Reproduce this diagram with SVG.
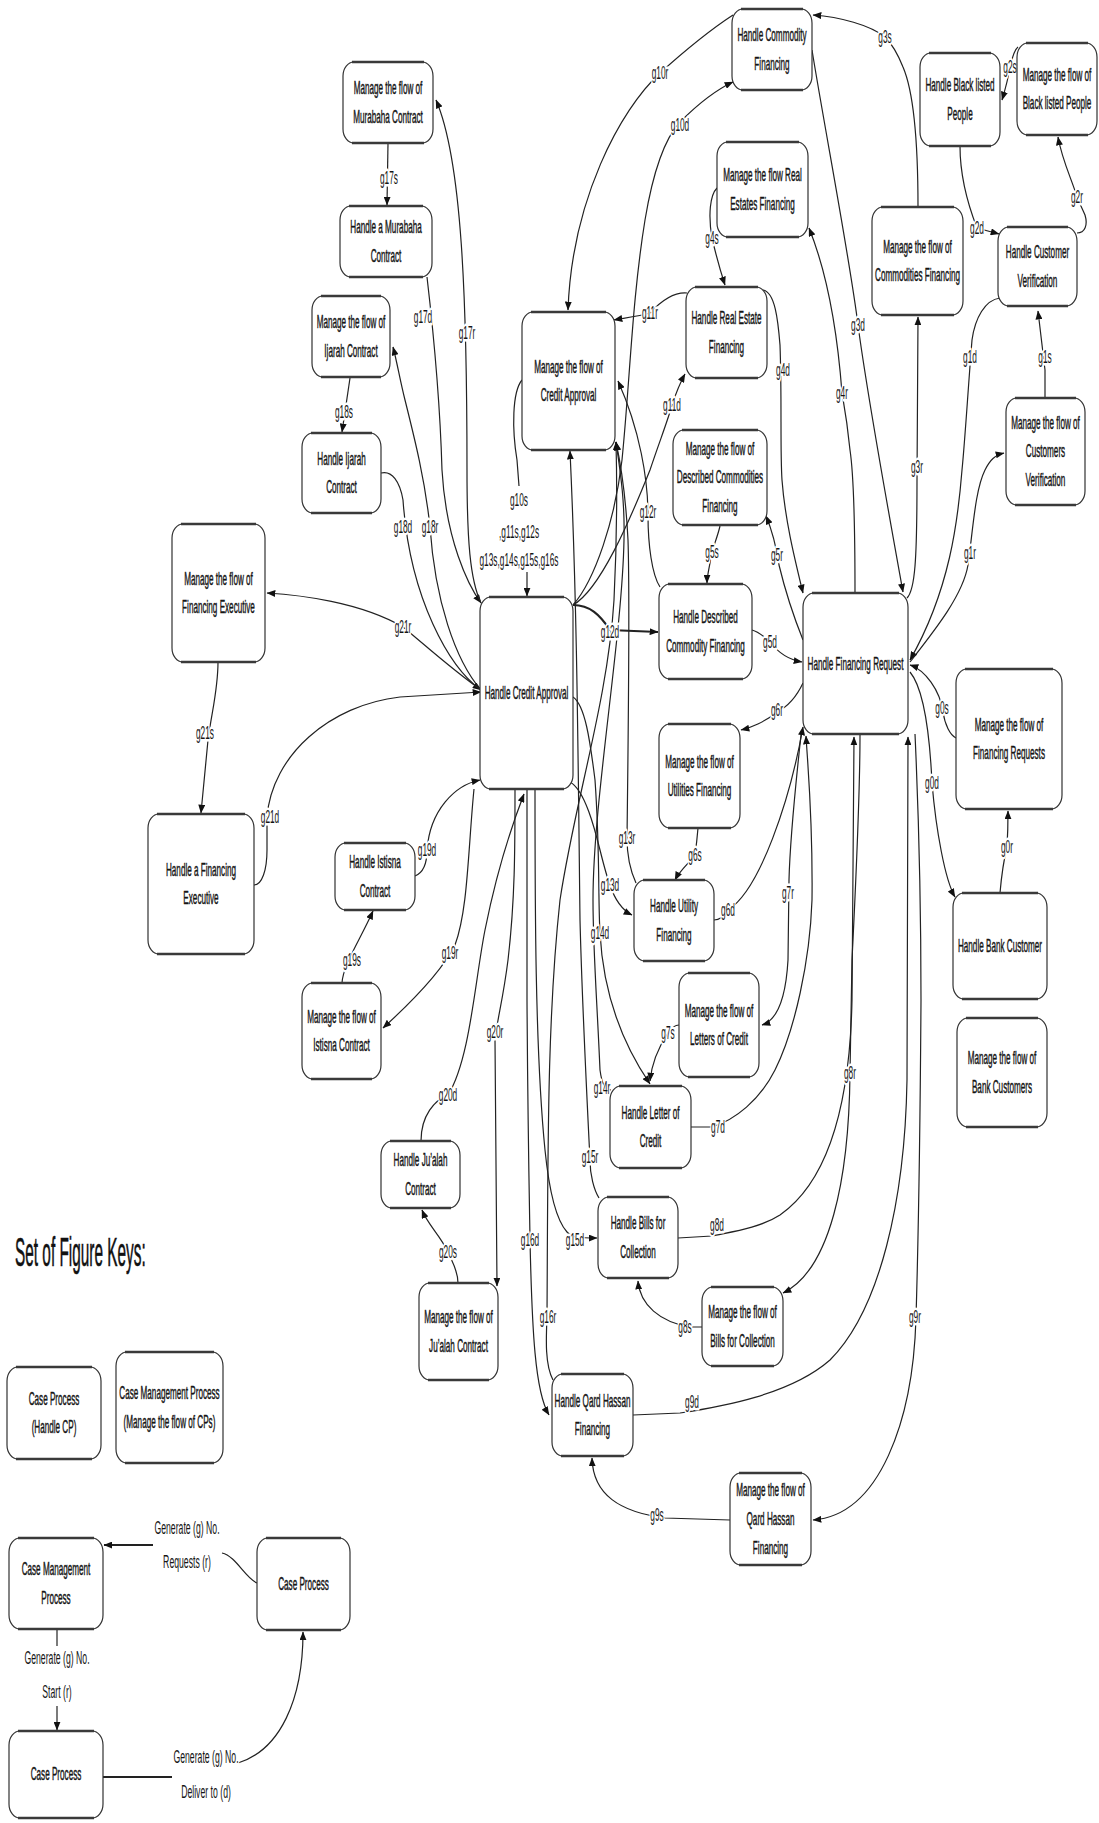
<svg xmlns="http://www.w3.org/2000/svg" width="1099" height="1823" viewBox="0 0 1099 1823">
<defs>
<style>
.box{fill:#fff;stroke:#333;stroke-width:1.2}
.rim{fill:none;stroke:#3a3a3a;stroke-width:2.6}
.t{font-family:"Liberation Sans",Arial,sans-serif;font-size:18.5px;fill:#151515;stroke:#151515;stroke-width:.45;text-anchor:middle}
.lb{font-family:"Liberation Sans",Arial,sans-serif;font-size:18.5px;fill:#151515;text-anchor:middle;stroke:#fff;stroke-width:5;stroke-linejoin:round;paint-order:stroke}
.c{fill:none;stroke:#222;stroke-width:1.2}
.a{marker-end:url(#ah)}
.thick{stroke-width:2.2}
.title{font-family:"Liberation Sans",Arial,sans-serif;font-size:41px;fill:#111;stroke:#111;stroke-width:.6}
</style>
<marker id="ah" viewBox="0 0 10 8" refX="9.5" refY="4" markerWidth="9" markerHeight="7" markerUnits="userSpaceOnUse" orient="auto"><path d="M0,0L10,4L0,8z" fill="#111"/></marker>
</defs>
<rect width="1099" height="1823" fill="#fff"/>

<!-- connectors -->
<g id="connectors">
<path id="e-g17s" class="c a" d="M388,143 L387,205"/>
<path id="e-g17d" class="c a" d="M427,277 C432,320 440,400 442,470 C446,540 468,585 481,603"/>
<path id="e-g17r" class="c a" d="M481,603 C470,580 467,540 467,470 C467,300 462,160 436,100"/>
<path id="e-g18s" class="c a" d="M350,378 L342,432"/>
<path id="e-g18d" class="c a" d="M381,473 C392,470 400,482 403,500 C410,600 450,668 481,690"/>
<path id="e-g18r" class="c a" d="M481,690 C455,660 435,600 430,527 C425,480 415,440 405,400 C400,380 397,362 393,347"/>
<path id="e-g21r" class="c a" d="M481,690 C450,668 425,645 403,627 C360,602 300,595 267,593"/>
<path id="e-g21d" class="c a" d="M254,885 C262,885 267,870 267,850 L267,817 C272,755 330,705 400,697 L481,692"/>
<path id="e-g21s" class="c a" d="M218,662 C218,690 212,710 208,740 L201,813"/>
<path id="e-g19s" class="c a" d="M342,983 C343,965 360,940 373,911"/>
<path id="e-g19d" class="c a" d="M415,876 C425,872 427,860 427,850 C430,810 455,785 480,780"/>
<path id="e-g19r" class="c a" d="M474,789 C468,850 468,910 455,945 C440,975 405,1008 383,1028"/>
<path id="e-g20s" class="c a" d="M458,1283 C458,1270 452,1262 448,1252 C440,1235 428,1225 422,1210"/>
<path id="e-g20d" class="c a" d="M421,1141 C421,1115 435,1100 448,1095 C470,1060 475,980 485,930 C495,880 510,830 524,794"/>
<path id="e-g20r" class="c a" d="M515,789 C515,850 515,900 508,960 C503,1000 497,1020 495,1040 L497,1286"/>
<path id="e-g16d" class="c a" d="M527,789 L527,1000 C528,1150 530,1230 530,1240 C532,1330 535,1392 549,1415"/>
<path id="e-g15d" class="c a" d="M535,789 C535,900 535,1050 545,1150 C550,1200 558,1222 567,1232 C572,1238 580,1238 597,1238"/>
<path id="e-g15r" class="c a" d="M599,1198 C594,1190 590,1175 590,1160 C587,1100 582,1000 580,920 C578,750 577,600 570,451"/>
<path id="e-g16r" class="c a" d="M553,1380 C545,1365 546,1340 547,1317 C548,1150 547,1020 560,900 C575,800 608,700 614,600 C617,540 617,480 616,442"/>
<path id="e-g14d" class="c a" d="M573,697 C585,705 590,740 595,780 C600,850 598,900 600,933 C603,990 620,1040 650,1084"/>
<path id="e-g14r" class="c a" d="M611,1090 C605,1089 602,1085 600,1070 C597,1000 593,950 593,900 C593,800 622,640 624,540 C625,500 620,470 616,442"/>
<path id="e-g13d" class="c a" d="M570,782 C585,790 595,830 600,850 C605,870 608,880 610,885 C615,900 622,910 632,915"/>
<path id="e-g13r" class="c a" d="M636,883 C630,870 627,855 627,838 C628,760 630,600 628,540 C626,500 622,470 616,442"/>
<path id="e-g12d" class="c a thick" d="M573,605 C590,605 600,615 610,630 L658,632"/>
<path id="e-g12r" class="c a" d="M660,587 C652,575 648,545 648,515 C648,480 640,430 618,381"/>
<path id="e-g11d" class="c a" d="M573,605 C600,590 630,520 650,470 C660,440 668,420 672,405 C676,393 680,383 685,374"/>
<path id="e-g11r" class="c a" d="M687,293 C675,292 662,300 650,313 C640,316 625,318 614,320"/>
<path id="e-g10d" class="c a" d="M573,605 C595,580 615,520 622,460 C630,380 632,300 645,220 C655,160 668,135 680,122 C700,102 720,88 733,82"/>
<path id="e-g10r" class="c a" d="M733,15 C710,30 680,55 660,73 C620,110 572,200 568,310"/>
<path id="e-g10s-a" class="c" d="M522,380 C512,392 512,430 517,460 L519,486"/>
<path id="e-g10s-b" class="c a" d="M527,572 L527,596"/>
<path id="e-g4s" class="c a" d="M717,188 C710,195 708,215 712,238 C716,255 720,270 725,285"/>
<path id="e-g4d" class="c a" d="M763,290 C775,292 778,320 780,345 C782,400 780,450 782,480 C785,520 795,560 803,593"/>
<path id="e-g4r" class="c a" d="M855,593 C855,520 853,470 850,450 C847,420 845,410 842,393 C838,340 830,280 809,228"/>
<path id="e-g3d" class="c a" d="M812,50 C825,130 850,260 858,325 C868,400 890,520 903,592"/>
<path id="e-g3r" class="c a" d="M907,598 C915,590 917,560 917,480 L918,317"/>
<path id="e-g3s" class="c a" d="M918,207 C918,150 915,95 903,67 C897,52 890,42 885,37 C870,25 840,17 813,15"/>
<path id="e-g2s" class="c a" d="M1018,47 C1014,50 1012,58 1010,67 C1008,80 1005,90 1002,100"/>
<path id="e-g2r" class="c a" d="M1077,233 C1085,233 1088,225 1085,215 C1082,208 1078,200 1077,197 C1072,180 1062,160 1058,137"/>
<path id="e-g2d" class="c a" d="M960,146 C960,180 970,210 977,228 L999,234"/>
<path id="e-g1s" class="c a" d="M1045,398 L1045,370 L1038,311"/>
<path id="e-g1d" class="c a" d="M1000,298 C985,300 975,318 972,340 C968,390 965,440 962,470 C958,520 950,590 910,660"/>
<path id="e-g1r" class="c a" d="M910,662 C935,630 963,595 968,565 C973,530 975,490 985,470 C990,460 995,455 1004,453"/>
<path id="e-g0s" class="c a" d="M956,738 C950,735 945,725 943,712 C940,690 925,670 910,665"/>
<path id="e-g0d" class="c a" d="M910,672 C925,690 930,740 932,783 C936,830 945,880 955,897"/>
<path id="e-g0r" class="c a" d="M1000,893 C1002,870 1005,855 1007,847 C1008,830 1008,820 1008,811"/>
<path id="e-g5s" class="c a" d="M720,526 C718,535 714,545 712,552 C710,565 707,575 707,583"/>
<path id="e-g5d" class="c a" d="M752,630 C760,632 765,638 770,642 C780,655 790,660 802,662"/>
<path id="e-g5r" class="c a" d="M803,640 C795,620 785,590 779,565 C776,545 772,530 766,516"/>
<path id="e-g6r" class="c a" d="M803,683 C795,700 785,708 777,712 C765,722 750,728 741,730"/>
<path id="e-g6s" class="c a" d="M698,828 C697,840 696,848 695,855 C690,862 680,870 675,880"/>
<path id="e-g6d" class="c a" d="M714,920 C720,920 725,915 728,910 C760,890 790,800 803,727"/>
<path id="e-g7r" class="c a" d="M801,735 C795,790 790,840 789,880 L788,960 C786,995 778,1020 762,1025"/>
<path id="e-g7s" class="c a" d="M679,1025 C673,1025 670,1030 668,1033 C660,1045 652,1060 650,1081"/>
<path id="e-g7d" class="c a" d="M691,1127 L712,1127 C735,1120 760,1100 775,1070 C795,1030 810,960 812,900 C813,820 808,770 806,736"/>
<path id="e-g8d" class="c a" d="M678,1238 L712,1236 C730,1232 760,1228 780,1215 C830,1180 850,1100 852,1000 L854,737"/>
<path id="e-g8r" class="c a" d="M860,735 C860,800 855,900 852,960 L850,1073 C849,1180 830,1270 783,1293"/>
<path id="e-g8s" class="c a" d="M702,1327 L690,1327 C660,1322 640,1305 638,1281"/>
<path id="e-g9d" class="c a" d="M633,1415 L680,1413 C720,1407 790,1395 830,1360 C880,1310 905,1200 907,1080 L908,737"/>
<path id="e-g9r" class="c a" d="M915,734 C918,800 921,900 921,1000 C920,1150 918,1250 916,1318 C913,1420 880,1515 813,1520"/>
<path id="e-g9s" class="c a" d="M730,1520 L665,1518 C620,1512 593,1495 592,1458"/>
<!-- key connectors -->
<path id="k-requests" class="c a thick" d="M153,1545 L104,1545"/>
<path id="k-requests-tail" class="c" d="M222,1553 C236,1556 245,1578 257,1583"/>
<path id="k-start-a" class="c" d="M57,1629 L57,1646"/>
<path id="k-start-b" class="c a" d="M57,1706 L57,1730"/>
<path id="k-deliver-a" class="c thick" d="M103,1777 L172,1777"/>
<path id="k-deliver-b" class="c a" d="M238,1763 C280,1750 303,1700 303,1632"/>
</g>

<!-- connector labels -->
<g id="labels">
<text class="lb" transform="translate(389,184) scale(.45 1)">g17s</text>
<text class="lb" transform="translate(423,323) scale(.45 1)">g17d</text>
<text class="lb" transform="translate(467,339) scale(.45 1)">g17r</text>
<text class="lb" transform="translate(344,418) scale(.45 1)">g18s</text>
<text class="lb" transform="translate(403,533) scale(.45 1)">g18d</text>
<text class="lb" transform="translate(430,533) scale(.45 1)">g18r</text>
<text class="lb" transform="translate(403,633) scale(.45 1)">g21r</text>
<text class="lb" transform="translate(270,823) scale(.45 1)">g21d</text>
<text class="lb" transform="translate(205,739) scale(.45 1)">g21s</text>
<text class="lb" transform="translate(427,856) scale(.45 1)">g19d</text>
<text class="lb" transform="translate(352,966) scale(.45 1)">g19s</text>
<text class="lb" transform="translate(450,959) scale(.45 1)">g19r</text>
<text class="lb" transform="translate(448,1101) scale(.45 1)">g20d</text>
<text class="lb" transform="translate(448,1258) scale(.45 1)">g20s</text>
<text class="lb" transform="translate(495,1038) scale(.45 1)">g20r</text>
<text class="lb" transform="translate(530,1246) scale(.45 1)">g16d</text>
<text class="lb" transform="translate(548,1323) scale(.45 1)">g16r</text>
<text class="lb" transform="translate(575,1246) scale(.45 1)">g15d</text>
<text class="lb" transform="translate(590,1163) scale(.45 1)">g15r</text>
<text class="lb" transform="translate(600,939) scale(.45 1)">g14d</text>
<text class="lb" transform="translate(602,1094) scale(.45 1)">g14r</text>
<text class="lb" transform="translate(610,891) scale(.45 1)">g13d</text>
<text class="lb" transform="translate(627,844) scale(.45 1)">g13r</text>
<text class="lb" transform="translate(610,638) scale(.45 1)">g12d</text>
<text class="lb" transform="translate(648,518) scale(.45 1)">g12r</text>
<text class="lb" transform="translate(672,411) scale(.45 1)">g11d</text>
<text class="lb" transform="translate(650,319) scale(.45 1)">g11r</text>
<text class="lb" transform="translate(680,131) scale(.45 1)">g10d</text>
<text class="lb" transform="translate(660,79) scale(.45 1)">g10r</text>
<text class="lb" transform="translate(519,506) scale(.45 1)">g10s</text>
<text class="lb" transform="translate(519,538) scale(.45 1)">,g11s,g12s</text>
<text class="lb" transform="translate(519,566) scale(.45 1)">g13s,g14s,g15s,g16s</text>
<text class="lb" transform="translate(712,244) scale(.45 1)">g4s</text>
<text class="lb" transform="translate(783,376) scale(.45 1)">g4d</text>
<text class="lb" transform="translate(842,399) scale(.45 1)">g4r</text>
<text class="lb" transform="translate(858,331) scale(.45 1)">g3d</text>
<text class="lb" transform="translate(917,473) scale(.45 1)">g3r</text>
<text class="lb" transform="translate(885,43) scale(.45 1)">g3s</text>
<text class="lb" transform="translate(1010,73) scale(.45 1)">g2s</text>
<text class="lb" transform="translate(1077,203) scale(.45 1)">g2r</text>
<text class="lb" transform="translate(977,234) scale(.45 1)">g2d</text>
<text class="lb" transform="translate(1045,363) scale(.45 1)">g1s</text>
<text class="lb" transform="translate(970,363) scale(.45 1)">g1d</text>
<text class="lb" transform="translate(970,559) scale(.45 1)">g1r</text>
<text class="lb" transform="translate(942,714) scale(.45 1)">g0s</text>
<text class="lb" transform="translate(932,789) scale(.45 1)">g0d</text>
<text class="lb" transform="translate(1007,853) scale(.45 1)">g0r</text>
<text class="lb" transform="translate(712,558) scale(.45 1)">g5s</text>
<text class="lb" transform="translate(770,648) scale(.45 1)">g5d</text>
<text class="lb" transform="translate(777,561) scale(.45 1)">g5r</text>
<text class="lb" transform="translate(777,716) scale(.45 1)">g6r</text>
<text class="lb" transform="translate(695,861) scale(.45 1)">g6s</text>
<text class="lb" transform="translate(728,916) scale(.45 1)">g6d</text>
<text class="lb" transform="translate(788,899) scale(.45 1)">g7r</text>
<text class="lb" transform="translate(668,1039) scale(.45 1)">g7s</text>
<text class="lb" transform="translate(718,1133) scale(.45 1)">g7d</text>
<text class="lb" transform="translate(717,1231) scale(.45 1)">g8d</text>
<text class="lb" transform="translate(850,1079) scale(.45 1)">g8r</text>
<text class="lb" transform="translate(685,1333) scale(.45 1)">g8s</text>
<text class="lb" transform="translate(692,1408) scale(.45 1)">g9d</text>
<text class="lb" transform="translate(915,1323) scale(.45 1)">g9r</text>
<text class="lb" transform="translate(657,1521) scale(.45 1)">g9s</text>
<!-- key labels -->
<text class="lb" transform="translate(187,1534) scale(.47 1)">Generate (g) No.</text>
<text class="lb" transform="translate(187,1568) scale(.47 1)">Requests (r)</text>
<text class="lb" transform="translate(57,1664) scale(.47 1)">Generate (g) No.</text>
<text class="lb" transform="translate(57,1698) scale(.47 1)">Start (r)</text>
<text class="lb" transform="translate(206,1763) scale(.47 1)">Generate (g) No.</text>
<text class="lb" transform="translate(206,1798) scale(.47 1)">Deliver to (d)</text>
</g>

<!-- nodes -->
<g id="n-murabaha-m"><rect class="box" x="343" y="62" width="90" height="81" rx="11" ry="14"/><path class="rim" d="M352,62H424M352,143H424"/><text class="t" transform="translate(388,94) scale(.44 1)"><tspan x="0">Manage the flow of</tspan><tspan x="0" dy="29">Murabaha Contract</tspan></text></g>
<g id="n-murabaha-h"><rect class="box" x="340" y="206" width="92" height="71" rx="11" ry="14"/><path class="rim" d="M349,206H423M349,277H423"/><text class="t" transform="translate(386,233) scale(.44 1)"><tspan x="0">Handle a Murabaha</tspan><tspan x="0" dy="29">Contract</tspan></text></g>
<g id="n-ijarah-m"><rect class="box" x="312" y="296" width="78" height="81" rx="11" ry="14"/><path class="rim" d="M321,296H381M321,377H381"/><text class="t" transform="translate(351,328) scale(.44 1)"><tspan x="0">Manage the flow of</tspan><tspan x="0" dy="29">Ijarah Contract</tspan></text></g>
<g id="n-ijarah-h"><rect class="box" x="302" y="433" width="79" height="80" rx="11" ry="14"/><path class="rim" d="M311,433H372M311,513H372"/><text class="t" transform="translate(341.5,464.5) scale(.44 1)"><tspan x="0">Handle Ijarah</tspan><tspan x="0" dy="29">Contract</tspan></text></g>
<g id="n-finexec-m"><rect class="box" x="172" y="524" width="93" height="138" rx="11" ry="14"/><path class="rim" d="M181,524H256M181,662H256"/><text class="t" transform="translate(218.5,584.5) scale(.44 1)"><tspan x="0">Manage the flow of</tspan><tspan x="0" dy="29">Financing  Executive</tspan></text></g>
<g id="n-finexec-h"><rect class="box" x="148" y="814" width="106" height="140" rx="11" ry="14"/><path class="rim" d="M157,814H245M157,954H245"/><text class="t" transform="translate(201,875.5) scale(.44 1)"><tspan x="0">Handle a Financing</tspan><tspan x="0" dy="29">Executive</tspan></text></g>
<g id="n-credit-h"><rect class="box" x="480" y="597" width="93" height="192" rx="11" ry="14"/><path class="rim" d="M489,597H564M489,789H564"/><text class="t" transform="translate(526.5,699) scale(.44 1)">Handle Credit Approval</text></g>
<g id="n-credit-m"><rect class="box" x="522" y="312" width="93" height="138" rx="11" ry="14"/><path class="rim" d="M531,312H606M531,450H606"/><text class="t" transform="translate(568.5,372.5) scale(.44 1)"><tspan x="0">Manage the flow of</tspan><tspan x="0" dy="29">Credit Approval</tspan></text></g>
<g id="n-commodity-h"><rect class="box" x="732" y="9" width="80" height="81" rx="11" ry="14"/><path class="rim" d="M741,9H803M741,90H803"/><text class="t" transform="translate(772,41) scale(.44 1)"><tspan x="0">Handle Commodity</tspan><tspan x="0" dy="29">Financing</tspan></text></g>
<g id="n-realestate-m"><rect class="box" x="717" y="142" width="91" height="95" rx="11" ry="14"/><path class="rim" d="M726,142H799M726,237H799"/><text class="t" transform="translate(762.5,181) scale(.44 1)"><tspan x="0">Manage the flow Real</tspan><tspan x="0" dy="29">Estates Financing</tspan></text></g>
<g id="n-realestate-h"><rect class="box" x="686" y="287" width="81" height="91" rx="11" ry="14"/><path class="rim" d="M695,287H758M695,378H758"/><text class="t" transform="translate(726.5,324) scale(.44 1)"><tspan x="0">Handle Real Estate</tspan><tspan x="0" dy="29">Financing</tspan></text></g>
<g id="n-blacklist-h"><rect class="box" x="920" y="53" width="80" height="93" rx="11" ry="14"/><path class="rim" d="M929,53H991M929,146H991"/><text class="t" transform="translate(960,91) scale(.44 1)"><tspan x="0">Handle Black listed</tspan><tspan x="0" dy="29">People</tspan></text></g>
<g id="n-blacklist-m"><rect class="box" x="1017" y="43" width="80" height="92" rx="11" ry="14"/><path class="rim" d="M1026,43H1088M1026,135H1088"/><text class="t" transform="translate(1057,80.5) scale(.44 1)"><tspan x="0">Manage the flow of</tspan><tspan x="0" dy="29">Black listed People</tspan></text></g>
<g id="n-commodities-m"><rect class="box" x="872" y="207" width="91" height="108" rx="11" ry="14"/><path class="rim" d="M881,207H954M881,315H954"/><text class="t" transform="translate(917.5,252.5) scale(.44 1)"><tspan x="0">Manage the flow of</tspan><tspan x="0" dy="29">Commodities Financing</tspan></text></g>
<g id="n-custver-h"><rect class="box" x="998" y="227" width="79" height="79" rx="11" ry="14"/><path class="rim" d="M1007,227H1068M1007,306H1068"/><text class="t" transform="translate(1037.5,258) scale(.44 1)"><tspan x="0">Handle Customer</tspan><tspan x="0" dy="29">Verification</tspan></text></g>
<g id="n-custver-m"><rect class="box" x="1006" y="398" width="79" height="107" rx="11" ry="14"/><path class="rim" d="M1015,398H1076M1015,505H1076"/><text class="t" transform="translate(1045.5,428.5) scale(.44 1)"><tspan x="0">Manage the flow of</tspan><tspan x="0" dy="29">Customers</tspan><tspan x="0" dy="29">Verification</tspan></text></g>
<g id="n-described-m"><rect class="box" x="673" y="430" width="94" height="95" rx="11" ry="14"/><path class="rim" d="M682,430H758M682,525H758"/><text class="t" transform="translate(720,454.5) scale(.44 1)"><tspan x="0">Manage the flow of</tspan><tspan x="0" dy="29">Described Commodities</tspan><tspan x="0" dy="29">Financing</tspan></text></g>
<g id="n-described-h"><rect class="box" x="659" y="584" width="93" height="95" rx="11" ry="14"/><path class="rim" d="M668,584H743M668,679H743"/><text class="t" transform="translate(705.5,623) scale(.44 1)"><tspan x="0">Handle Described</tspan><tspan x="0" dy="29">Commodity Financing</tspan></text></g>
<g id="n-finreq-h"><rect class="box" x="803" y="593" width="105" height="141" rx="11" ry="14"/><path class="rim" d="M812,593H899M812,734H899"/><text class="t" transform="translate(855.5,669.5) scale(.44 1)">Handle Financing Request</text></g>
<g id="n-finreq-m"><rect class="box" x="956" y="669" width="106" height="140" rx="11" ry="14"/><path class="rim" d="M965,669H1053M965,809H1053"/><text class="t" transform="translate(1009,730.5) scale(.44 1)"><tspan x="0">Manage the flow of</tspan><tspan x="0" dy="29">Financing Requests</tspan></text></g>
<g id="n-bankcust-h"><rect class="box" x="953" y="893" width="94" height="106" rx="11" ry="14"/><path class="rim" d="M962,893H1038M962,999H1038"/><text class="t" transform="translate(1000,952) scale(.44 1)">Handle Bank Customer</text></g>
<g id="n-bankcust-m"><rect class="box" x="957" y="1018" width="90" height="109" rx="11" ry="14"/><path class="rim" d="M966,1018H1038M966,1127H1038"/><text class="t" transform="translate(1002,1064) scale(.44 1)"><tspan x="0">Manage the flow of</tspan><tspan x="0" dy="29">Bank Customers</tspan></text></g>
<g id="n-utility-m"><rect class="box" x="659" y="724" width="81" height="104" rx="11" ry="14"/><path class="rim" d="M668,724H731M668,828H731"/><text class="t" transform="translate(699.5,767.5) scale(.44 1)"><tspan x="0">Manage the flow of</tspan><tspan x="0" dy="29">Utilities Financing</tspan></text></g>
<g id="n-utility-h"><rect class="box" x="634" y="880" width="80" height="81" rx="11" ry="14"/><path class="rim" d="M643,880H705M643,961H705"/><text class="t" transform="translate(674,912) scale(.44 1)"><tspan x="0">Handle Utility</tspan><tspan x="0" dy="29">Financing</tspan></text></g>
<g id="n-letters-m"><rect class="box" x="679" y="973" width="80" height="104" rx="11" ry="14"/><path class="rim" d="M688,973H750M688,1077H750"/><text class="t" transform="translate(719,1016.5) scale(.44 1)"><tspan x="0">Manage the flow of</tspan><tspan x="0" dy="29">Letters of Credit</tspan></text></g>
<g id="n-letter-h"><rect class="box" x="610" y="1086" width="81" height="82" rx="11" ry="14"/><path class="rim" d="M619,1086H682M619,1168H682"/><text class="t" transform="translate(650.5,1118.5) scale(.44 1)"><tspan x="0">Handle  Letter of</tspan><tspan x="0" dy="29">Credit</tspan></text></g>
<g id="n-bills-h"><rect class="box" x="598" y="1197" width="80" height="81" rx="11" ry="14"/><path class="rim" d="M607,1197H669M607,1278H669"/><text class="t" transform="translate(638,1229) scale(.44 1)"><tspan x="0">Handle Bills for</tspan><tspan x="0" dy="29">Collection</tspan></text></g>
<g id="n-bills-m"><rect class="box" x="702" y="1287" width="81" height="79" rx="11" ry="14"/><path class="rim" d="M711,1287H774M711,1366H774"/><text class="t" transform="translate(742.5,1318) scale(.44 1)"><tspan x="0">Manage the flow of</tspan><tspan x="0" dy="29">Bills for Collection</tspan></text></g>
<g id="n-qard-h"><rect class="box" x="552" y="1374" width="81" height="82" rx="11" ry="14"/><path class="rim" d="M561,1374H624M561,1456H624"/><text class="t" transform="translate(592.5,1406.5) scale(.44 1)"><tspan x="0">Handle Qard Hassan</tspan><tspan x="0" dy="29">Financing</tspan></text></g>
<g id="n-qard-m"><rect class="box" x="730" y="1473" width="81" height="92" rx="11" ry="14"/><path class="rim" d="M739,1473H802M739,1565H802"/><text class="t" transform="translate(770.5,1496) scale(.44 1)"><tspan x="0">Manage the flow of</tspan><tspan x="0" dy="29">Qard Hassan</tspan><tspan x="0" dy="29">Financing</tspan></text></g>
<g id="n-istisna-h"><rect class="box" x="335" y="843" width="80" height="67" rx="11" ry="14"/><path class="rim" d="M344,843H406M344,910H406"/><text class="t" transform="translate(375,868) scale(.44 1)"><tspan x="0">Handle Istisna</tspan><tspan x="0" dy="29">Contract</tspan></text></g>
<g id="n-istisna-m"><rect class="box" x="302" y="983" width="79" height="96" rx="11" ry="14"/><path class="rim" d="M311,983H372M311,1079H372"/><text class="t" transform="translate(341.5,1022.5) scale(.44 1)"><tspan x="0">Manage the flow of</tspan><tspan x="0" dy="29">Istisna Contract</tspan></text></g>
<g id="n-jualah-h"><rect class="box" x="381" y="1141" width="79" height="67" rx="11" ry="14"/><path class="rim" d="M390,1141H451M390,1208H451"/><text class="t" transform="translate(420.5,1166) scale(.44 1)"><tspan x="0">Handle Ju’alah</tspan><tspan x="0" dy="29">Contract</tspan></text></g>
<g id="n-jualah-m"><rect class="box" x="419" y="1283" width="79" height="97" rx="11" ry="14"/><path class="rim" d="M428,1283H489M428,1380H489"/><text class="t" transform="translate(458.5,1323) scale(.44 1)"><tspan x="0">Manage the flow of</tspan><tspan x="0" dy="29">Ju’alah  Contract</tspan></text></g>

<!-- figure keys -->
<text id="keys-title" class="title" transform="translate(15,1266) scale(.375 1)">Set of Figure Keys:</text>
<g id="key-case"><rect class="box" x="7" y="1367" width="94" height="92" rx="11" ry="14"/><path class="rim" d="M16,1367H92M16,1459H92"/><text class="t" transform="translate(54,1404.5) scale(.44 1)"><tspan x="0">Case Process</tspan><tspan x="0" dy="29">(Handle CP)</tspan></text></g>
<g id="key-casemgmt"><rect class="box" x="116" y="1352" width="107" height="111" rx="11" ry="14"/><path class="rim" d="M125,1352H214M125,1463H214"/><text class="t" transform="translate(169.5,1399) scale(.44 1)"><tspan x="0">Case Management Process</tspan><tspan x="0" dy="29">(Manage the flow of CPs)</tspan></text></g>
<g id="key-mgmt-node"><rect class="box" x="9" y="1538" width="94" height="91" rx="11" ry="14"/><path class="rim" d="M18,1538H94M18,1629H94"/><text class="t" transform="translate(56,1575) scale(.44 1)"><tspan x="0">Case Management</tspan><tspan x="0" dy="29">Process</tspan></text></g>
<g id="key-case-right"><rect class="box" x="257" y="1538" width="93" height="92" rx="11" ry="14"/><path class="rim" d="M266,1538H341M266,1630H341"/><text class="t" transform="translate(303.5,1590) scale(.44 1)">Case Process</text></g>
<g id="key-case-bottom"><rect class="box" x="9" y="1731" width="94" height="87" rx="11" ry="14"/><path class="rim" d="M18,1731H94M18,1818H94"/><text class="t" transform="translate(56,1780) scale(.44 1)">Case Process</text></g>
</svg>
